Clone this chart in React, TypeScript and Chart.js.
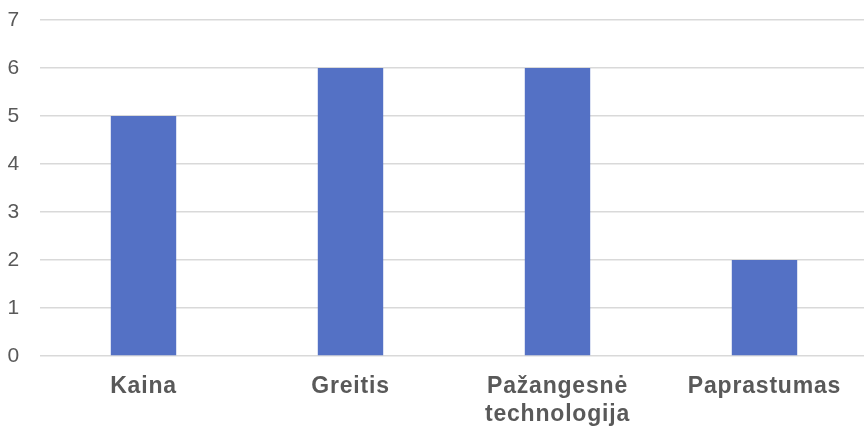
import React, { useEffect, useRef } from "react";
import { Chart, registerables } from "chart.js";

Chart.register(...registerables);

const categories: (string | string[])[] = [
  "Kaina",
  "Greitis",
  ["Pažangesnė", "technologija"],
  "Paprastumas",
];
const values: number[] = [5, 6, 6, 2];
const yTicks: number[] = [0, 1, 2, 3, 4, 5, 6, 7];

// Slight letter spacing for all canvas text
const spacingPlugin = {
  id: "letterSpacing",
  beforeDraw: (chart: any) => {
    chart.ctx.letterSpacing = "0.8px";
  },
};

export default function App() {
  const canvasRef = useRef<HTMLCanvasElement | null>(null);

  useEffect(() => {
    document.body.style.margin = "0";
    document.body.style.overflow = "hidden";
    const canvas = canvasRef.current;
    if (!canvas) return;
    const chart = new Chart(canvas, {
      type: "bar",
      data: {
        labels: categories,
        datasets: [
          {
            data: values,
            backgroundColor: "#5471C5",
            borderWidth: 0,
            barPercentage: 0.316,
            categoryPercentage: 1,
          },
        ],
      },
      plugins: [spacingPlugin],
      options: {
        animation: false,
        responsive: false,
        maintainAspectRatio: false,
        layout: { padding: { top: 20, right: 0, left: 0, bottom: 0 } },
        plugins: {
          legend: { display: false },
          tooltip: { enabled: false },
        },
        scales: {
          x: {
            grid: { display: false, drawTicks: false },
            border: { display: false },
            ticks: {
              color: "#595959",
              padding: 17,
              maxRotation: 0,
              autoSkip: false,
              font: { family: "Liberation Sans, Arial", size: 23, weight: "bold", lineHeight: 1.2 },
            },
            afterFit: (scale: any) => {
              scale.height = 71;
            },
          },
          y: {
            min: 0,
            max: 7,
            afterBuildTicks: (scale: any) => {
              scale.ticks = yTicks.map((v) => ({ value: v }));
            },
            grid: { color: "#d9d9d9", lineWidth: 1.5, drawTicks: false },
            border: { display: false },
            ticks: {
              color: "#595959",
              padding: 20,
              font: { family: "Liberation Sans, Arial", size: 21 },
            },
            afterFit: (scale: any) => {
              scale.width = 40;
              scale.paddingTop = 0;
              scale.paddingBottom = 0;
            },
          },
        },
      },
    });
    return () => chart.destroy();
  }, []);

  return (
    <div style={{ position: "absolute", left: 0, top: 0, width: 864, height: 427, overflow: "hidden" }}>
      <canvas ref={canvasRef} width={868} height={427} />
    </div>
  );
}
